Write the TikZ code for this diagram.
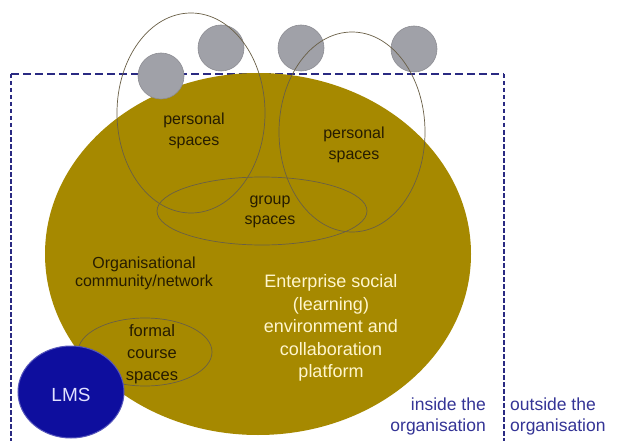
\documentclass[tikz,border=0pt]{standalone}
\usepackage{fontspec}
\setmainfont{Liberation Sans}
\usetikzlibrary{shapes.geometric}

\definecolor{esgold}{RGB}{166,137,0}
\definecolor{personfill}{RGB}{160,161,168}
\definecolor{personedge}{RGB}{140,140,146}
\definecolor{orgblue}{RGB}{42,42,130}
\definecolor{lmsblue}{RGB}{14,14,158}
\definecolor{darktext}{RGB}{38,28,0}
\definecolor{lighttext}{RGB}{255,246,205}
\definecolor{bluetext}{RGB}{52,52,150}
\definecolor{spaceedge}{RGB}{105,95,70}

\tikzset{
  orgline/.style={draw=orgblue, line width=1.8pt},
  person/.style={circle, fill=personfill, draw=personedge, line width=0.6pt,
                 minimum size=46pt, inner sep=0pt},
  spaceline/.style={ellipse, draw=spaceedge, line width=0.7pt, inner sep=0pt},
  lbl/.style={align=center, text=darktext, font=\fontsize{16}{20.5}\selectfont},
  esplbl/.style={align=center, text=lighttext, font=\fontsize{18}{22.5}\selectfont},
  sidelbl/.style={text=bluetext, font=\fontsize{17.5}{21}\selectfont, inner sep=0pt}
}

\begin{document}
\begin{tikzpicture}[x=1pt, y=-1pt]
\useasboundingbox (0,0) rectangle (618,441);
\clip (0,0) rectangle (618,441);
\fill[white] (0,0) rectangle (618,441);

% border of the organisation
\draw[orgline, dash pattern=on 8pt off 4pt] (11,74) -- (504,74);
\draw[orgline, dash pattern=on 4.5pt off 2.5pt] (11,74) -- (11,460);
\draw[orgline, dash pattern=on 4.5pt off 2.5pt] (504,74) -- (504,460);

% enterprise social environment
\node[ellipse, fill=esgold, minimum width=426pt, minimum height=362pt,
      inner sep=0pt] (esp) at (258,254) {};

% people
\node[person] (p1) at (161,76) {};
\node[person] (p2) at (221,48) {};
\node[person] (p3) at (301,48) {};
\node[person] (p4) at (414,49) {};

% personal, group and course spaces
\node[spaceline, minimum width=148pt, minimum height=200pt] (psl) at (191,113) {};
\node[spaceline, minimum width=146pt, minimum height=200pt] (psr) at (352,132) {};
\node[spaceline, minimum width=210pt, minimum height=68pt] (grp) at (262,211) {};
\node[spaceline, minimum width=134pt, minimum height=68pt] (fcs) at (145,352) {};

% learning management system
\node[ellipse, fill=lmsblue, draw=lmsblue!70!white, line width=1pt,
      minimum width=106pt, minimum height=92pt, inner sep=0pt] (lms) at (71,392) {};

% labels
\node[lbl] (tpsl) at (194,131) {personal\\spaces};
\node[lbl] (tpsr) at (354,145) {personal\\spaces};
\node[lbl] (tgrp) at (270,212) {group\\spaces};
\node[lbl, font=\fontsize{16}{18}\selectfont] (torg) at (144,273) {Organisational\\community/network};
\node[lbl, font=\fontsize{16.5}{22}\selectfont] (tfcs) at (152,354) {formal\\course\\spaces};
\node[text={rgb,255:red,225;green,225;blue,255}, font=\fontsize{19}{22}\selectfont] (tlms) at (71,395) {LMS};
\node[esplbl] (tesp) at (331,328) {Enterprise social\\(learning)\\environment and\\collaboration\\platform};

\node[sidelbl, align=right, anchor=east] (tin) at (486,416.5)
  {inside the\\[0.5pt]organisation};
\node[sidelbl, align=left, anchor=west] (tout) at (510,416.5)
  {outside the\\[0.5pt]organisation};
\end{tikzpicture}
\end{document}
